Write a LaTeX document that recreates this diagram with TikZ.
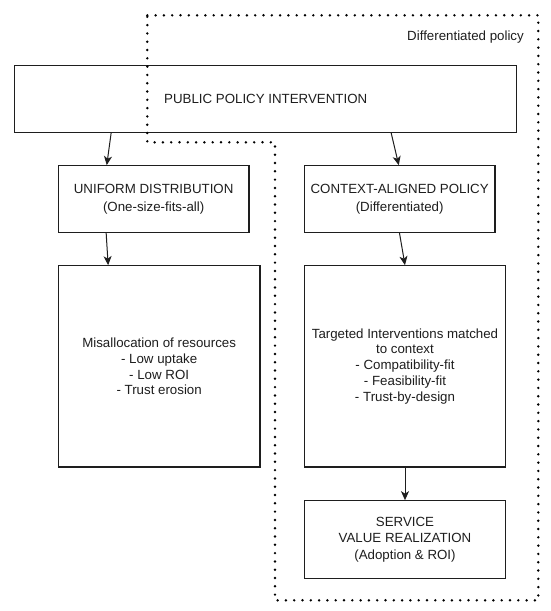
\documentclass[tikz,border=0pt]{standalone}
\usepackage{fontspec}
\setmainfont{Liberation Sans}
\usetikzlibrary{arrows.meta,calc}
\definecolor{ink}{HTML}{1E1E1E}
\begin{document}
\begin{tikzpicture}[x=1pt,y=-1pt,
  box/.style={draw=ink,line width=1.1pt,fill=white,inner sep=0pt,align=center,text=ink,
    font=\fontsize{13.3}{16}\selectfont},
  tight/.style={font=\fontsize{13.3}{15.8}\selectfont},
  loose/.style={font=\fontsize{13.3}{18.3}\selectfont},
  conn/.style={draw=ink,line width=1pt,-{Stealth[length=9pt,width=8pt,inset=2.5pt]}},
  zone/.style={draw=black,line width=2.7pt,line cap=round,dash pattern=on 0pt off 8.3pt}]
\useasboundingbox (0,0) rectangle (550,611);
\fill[white] (0,0) rectangle (550,611);

\node[box,minimum width=502pt,minimum height=66.6pt] (top) at (265.7,99) {PUBLIC POLICY INTERVENTION};
\node[box,loose,minimum width=190.7pt,minimum height=66.6pt] (uni) at (153.65,199) {UNIFORM DISTRIBUTION\\(One-size-fits-all)};
\node[box,loose,minimum width=190.7pt,minimum height=66.6pt] (ctx) at (399.65,199) {CONTEXT-ALIGNED POLICY\\(Differentiated)};
\node[box,tight,minimum width=201.7pt,minimum height=201.3pt] (mis) at (159.15,366.35) {Misallocation of resources\\- Low uptake\\- Low ROI\\- Trust erosion};
\node[box,tight,minimum width=201.4pt,minimum height=201.3pt] (tgt) at (405,366.35) {Targeted Interventions matched\\to context\\- Compatibility-fit\\- Feasibility-fit\\- Trust-by-design};
\node[box,font=\fontsize{13.3}{16.7}\selectfont,minimum width=201.4pt,minimum height=77.6pt] (svc) at (405,539.5) {SERVICE\\VALUE REALIZATION\\(Adoption \& ROI)};

\node[anchor=east,inner sep=0pt,text=ink,font=\fontsize{13.3}{16}\selectfont] (lab) at (524,37) {Differentiated policy};

\draw[conn] ($(top.south west)+(97,0)$) -- ($(uni.north west)+(49,0)$);
\draw[conn] ($(top.south west)+(377,0)$) -- ($(ctx.north west)+(95,0)$);
\draw[conn] ($(uni.south west)+(48.4,0)$) -- ($(mis.north west)+(50.4,0)$);
\draw[conn] ($(ctx.south west)+(95.7,0)$) -- (tgt.north);
\draw[conn] (tgt.south) -- (svc.north);

\coordinate (z1) at (147.3,15.3);
\coordinate (z2) at (538.3,15.3);
\coordinate (z3) at (538.3,600.3);
\coordinate (z4) at (275,600.3);
\coordinate (z5) at (275,142.3);
\coordinate (z6) at (147.3,142.3);
\draw[zone] (z1) -- (z2) -- (z3) -- (z4) -- (z5) -- (z6) -- cycle;
\end{tikzpicture}
\end{document}
